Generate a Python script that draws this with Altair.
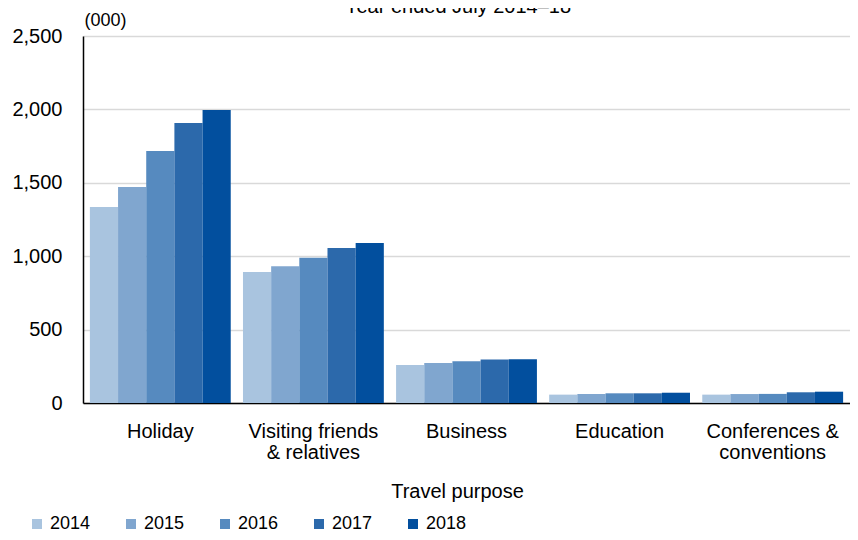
import altair as alt
import pandas as pd

purposes = ["Holiday", "Visiting friends\n& relatives", "Business", "Education", "Conferences &\nconventions"]
years = ["2014", "2015", "2016", "2017", "2018"]
v2014 = [1335, 892, 259, 57, 57]
v2015 = [1471, 931, 272, 61, 61]
v2016 = [1717, 990, 284, 66, 62]
v2017 = [1907, 1056, 297, 66, 73]
v2018 = [1996, 1090, 298, 70, 77]
colors = ["#A9C4DF", "#80A6CF", "#568ABF", "#2C69AB", "#024F9E"]
y_ticks = [0, 500, 1000, 1500, 2000, 2500]
title_text = "Year ended July 2014\u201318"

series = [v2014, v2015, v2016, v2017, v2018]
rows = []
for yr, vals in zip(years, series):
    for p, v in zip(purposes, vals):
        rows.append({"purpose": p, "year": yr, "value": v})
df = pd.DataFrame(rows)

FONT = "Liberation Sans"

bars = alt.Chart(df).mark_bar().encode(
    x=alt.X(
        "purpose:N",
        sort=purposes,
        scale=alt.Scale(paddingInner=0.08, paddingOuter=0.045),
        axis=alt.Axis(
            title="Travel purpose",
            labelAngle=0,
            labelExpr="split(datum.label, '\\n')",
            labelFontSize=20,
            labelPadding=18,
            labelLineHeight=21,
            labelColor="#000000",
            labelOverlap=False,
            labelLimit=300,
            ticks=False,
            domainColor="#000000",
            domainWidth=1.5,
            titleFontSize=20,
            titleFontWeight="normal",
            titleColor="#000000",
            titleX=374,
            titleY=94,
            titleAlign="center",
            titleBaseline="alphabetic",
        ),
    ),
    xOffset=alt.XOffset("year:N", sort=years, scale=alt.Scale(paddingInner=0, paddingOuter=0)),
    y=alt.Y(
        "value:Q",
        scale=alt.Scale(domain=[0, 2500], nice=False),
        axis=alt.Axis(
            values=y_ticks,
            format=",d",
            title="(000)",
            titleAngle=0,
            titleX=22,
            titleY=-11,
            titleAlign="center",
            titleBaseline="alphabetic",
            titleFontSize=18,
            titleFontWeight="normal",
            titleColor="#000000",
            labelFontSize=20,
            labelPadding=21,
            labelColor="#000000",
            ticks=False,
            domainColor="#000000",
            domainWidth=1.5,
            gridColor="#D9D9D9",
            gridWidth=1.5,
        ),
    ),
    color=alt.Color(
        "year:N",
        scale=alt.Scale(domain=years, range=colors),
        legend=alt.Legend(
            title=None,
            orient="none",
            legendX=-55,
            legendY=479,
            direction="horizontal",
            symbolType="square",
            symbolSize=100,
            symbolStrokeWidth=0,
            labelFontSize=18,
            labelOffset=4,
            labelColor="#000000",
            columnPadding=31,
        ),
    ),
)

title = alt.Chart(pd.DataFrame({"t": [title_text]})).mark_text(
    fontSize=20, font=FONT, align="center", baseline="alphabetic", color="#000000"
).encode(text="t:N", x=alt.value(375), y=alt.value(-23))

chart = alt.layer(bars, title).properties(
    width=767,
    height=367,
    autosize=alt.AutoSizeParams(type="none"),
    padding={"left": 75, "top": 28, "right": 0, "bottom": 129},
).configure(font=FONT).configure_view(stroke=None)

chart.save("out.html", embed_options={"renderer": "svg", "actions": False})
